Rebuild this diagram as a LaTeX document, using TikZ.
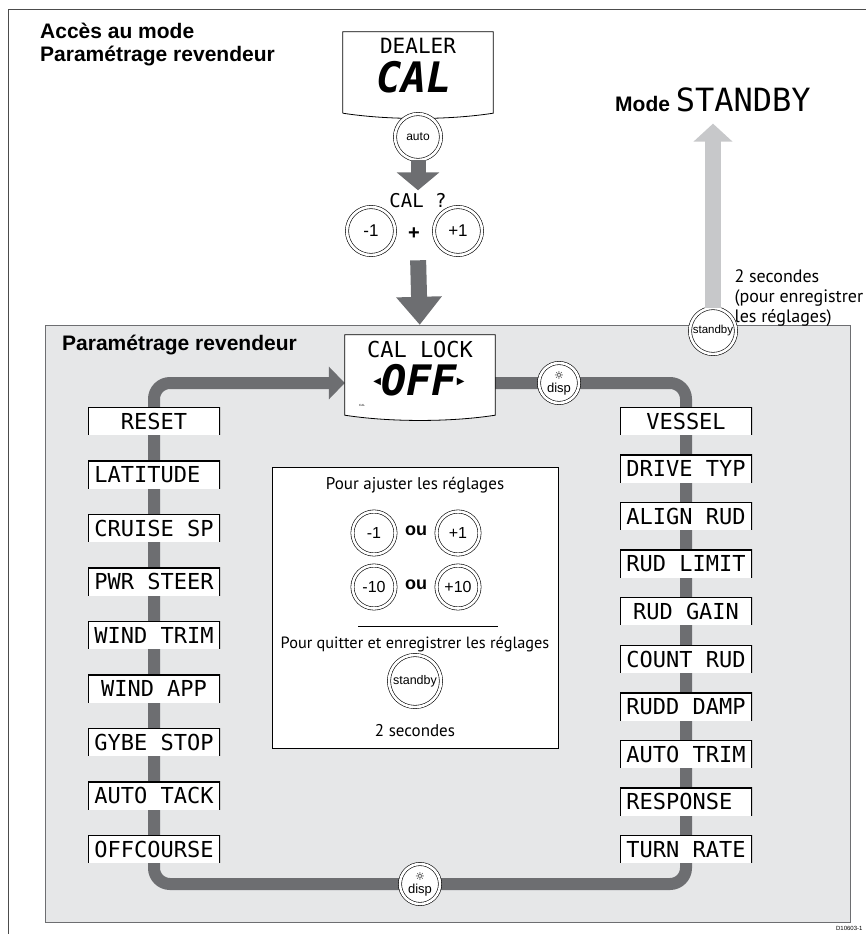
\documentclass[tikz,border=0pt]{standalone}
\usepackage{fontspec}
\setmainfont{Liberation Sans}
\newfontfamily\lcdfont{DejaVu Sans Mono}
\newfontfamily\condfont{PT Sans}
\newfontfamily\symfont{DejaVu Sans}
\usetikzlibrary{arrows.meta}
\definecolor{trackgray}{HTML}{6D6E71}
\definecolor{panelgray}{HTML}{E6E7E8}
\definecolor{palegray}{HTML}{C7C8CA}
\newcommand{\fsize}[1]{\fontsize{#1}{#1}\selectfont}
\pgfdeclarelayer{back}
\pgfdeclarelayer{mid}
\pgfsetlayers{back,mid,main}

\begin{document}
\begin{tikzpicture}[x=1pt,y=-1pt,
  btn/.style={circle,draw,double,double distance=2.6pt,line width=0.6pt,fill=white,inner sep=0pt,font=\fsize{16}},
  lcdbox/.style={rectangle,fill=white,minimum width=132pt,minimum height=28pt,inner sep=0pt,font=\lcdfont\fsize{22},
    path picture={\draw[line width=2pt] (path picture bounding box.south west) -- (path picture bounding box.north west)
      -- (path picture bounding box.north east) -- (path picture bounding box.south east);}},
  lcdscreen/.style={rectangle,minimum width=150pt,inner sep=0pt},
  track/.style={draw=trackgray,line width=12pt},
  fat/.style={draw=trackgray},
  heading/.style={font=\bfseries\fontsize{21}{25}\selectfont,anchor=west,inner sep=0pt},
  cond/.style={font=\condfont\fsize{17}}]
  \useasboundingbox (0,0) rectangle (866,934);
  \draw[black!70,line width=1pt] (866,10) -- (8,10) -- (8,934);
  \node[heading] (acces) at (40,31) {Accès au mode};
  \node[heading] (accesb) at (40,56) {Paramétrage revendeur};

  \node[lcdscreen,minimum height=81pt] (dealer) at (418,72.5) {};
  \draw[line width=0.8pt] (dealer.south west) -- (dealer.north west) -- (dealer.north east) -- (dealer.south east)
    .. controls ([xshift=-45pt,yshift=-7pt]dealer.south east) and ([xshift=45pt,yshift=-7pt]dealer.south west) .. (dealer.south west);
  \node[font=\lcdfont\fsize{21}] (dealertxt) at (418,46) {DEALER};
  \node[font=\lcdfont\bfseries\itshape\fsize{42}] (caltxt) at (414,77) {CAL};
  \node[btn,minimum size=46pt,font=\fsize{12}] (auto) at (418,137) {auto};
  \node[font=\lcdfont\fsize{19}] (calq) at (418,201) {CAL ?};
  \draw[fat,line width=15pt,-{Triangle[width=42pt,length=18pt]}] (auto.south) -- (calq.north);
  \node[btn,minimum size=48pt,font=\fsize{17}] (mone) at (371,231) {-1};
  \node[font=\bfseries\fsize{20}] (plus) at (414,234) {+};
  \node[btn,minimum size=48pt,font=\fsize{17}] (pone) at (458,231) {+1};

  \node[font=\bfseries\fsize{21}] (modeSB) at (713,100) {Mode {\mdseries\lcdfont\fsize{32}STANDBY}};
  \node[anchor=north west,align=left,font=\condfont\fontsize{18}{20}\selectfont] (secT) at (731,266)
    {2 secondes\\(pour enregistrer\\les réglages)};

  \begin{pgfonlayer}{back}
    \draw[draw=trackgray,line width=1pt,fill=panelgray] (45,325) rectangle (850,922);
  \end{pgfonlayer}
  \node[heading] (paneltitle) at (62,345) {Paramétrage revendeur};

  \node[lcdscreen,minimum height=80pt] (calock) at (420,375) {};
  \filldraw[fill=white,line width=0.8pt] (calock.south west) -- (calock.north west) -- (calock.north east) -- (calock.south east)
    .. controls ([xshift=-45pt,yshift=-7pt]calock.south east) and ([xshift=45pt,yshift=-7pt]calock.south west) .. (calock.south west) -- cycle;
  \node[font=\lcdfont\fsize{22}] (locktxt) at (420,349) {CAL LOCK};
  \node[font=\lcdfont\bfseries\itshape\fsize{42}] (offtxt) at (419,380)
    {\raisebox{11pt}{\symfont\upshape\mdseries\fsize{10}◀}OFF\raisebox{11pt}{\symfont\upshape\mdseries\fsize{10}▶}};
  \node[font=\fsize{3}] (calmark) at (362,405) {CAL};
  \draw[fat,line width=16pt,-{Triangle[width=44pt,length=28pt]},shorten <=5pt,shorten >=10pt] (mone.south -| calq) -- (calock.north);

  \node[btn,minimum size=46pt,font=\fsize{11.5}] (sbyT) at (713,331) {standby};
  \draw[draw=palegray,line width=16pt,-{Triangle[width=38pt,length=18pt]},shorten >=8pt] (sbyT.north) -- (modeSB.south);

  \node[btn,minimum size=40pt,align=center,font=\fsize{13}] (dispT) at (559,383) {{\symfont\fsize{11}☼}\\disp};
  \node[btn,minimum size=40pt,align=center,font=\fsize{13}] (dispB) at (420,884) {{\symfont\fsize{11}☼}\\disp};

  \foreach \txt [count=\i] in {RESET,LATITUDE\hphantom{X},CRUISE SP,PWR STEER,WIND TRIM,WIND APP,GYBE STOP,AUTO TACK,OFFCOURSE}
    \node[lcdbox] (l\i) at (154,{421+53.5*(\i-1)}) {\txt};
  \foreach \txt [count=\i] in {VESSEL,DRIVE TYP,ALIGN RUD,RUD LIMIT,RUD GAIN,COUNT RUD,RUDD DAMP,AUTO TRIM,RESPONSE\hphantom{X},TURN RATE}
    \node[lcdbox] (r\i) at (686,{421+47.6*(\i-1)}) {\txt};

  \begin{pgfonlayer}{mid}
    \draw[track,rounded corners=16pt,-{Triangle[width=32pt,length=16pt]}] (calock.east |- dispT) -| (r1.center) |- (dispB.center)
      -| (l1.center) |- (calock.west |- dispT);
  \end{pgfonlayer}

  \node[draw,fill=white,line width=0.8pt,minimum width=286pt,minimum height=281pt] (adjbox) at (415,607.5) {};
  \node[cond] (adjtitle) at (415,485) {Pour ajuster les réglages};
  \node[btn,minimum size=43pt] (mun) at (374,533) {-1};
  \node[font=\bfseries\fsize{18}] (oua) at (416,531) {ou};
  \node[btn,minimum size=43pt] (pun) at (458,533) {+1};
  \node[btn,minimum size=43pt] (mdix) at (374,587) {-10};
  \node[font=\bfseries\fsize{18}] (oub) at (416,585) {ou};
  \node[btn,minimum size=43pt] (pdix) at (458,587) {+10};
  \draw[line width=0.8pt] (358,626) -- (498,626);
  \node[font=\condfont\fsize{16.3}] (quit) at (415,644) {Pour quitter et enregistrer les réglages};
  \node[btn,minimum size=52pt,font=\fsize{12.5}] (sbyC) at (415,681) {standby};
  \node[cond] (secC) at (415,731) {2 secondes};

  \node[font=\fsize{6},anchor=east] (ref) at (866,928) {D10603-1};
\end{tikzpicture}
\end{document}
